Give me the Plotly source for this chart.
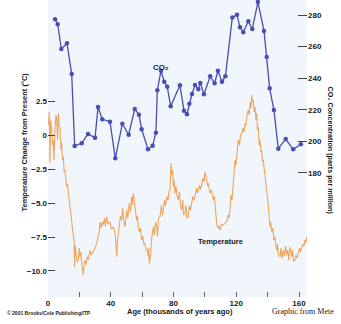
import plotly.graph_objects as go

# CO2 (Vostok) — age in thousands of years ago, ppm
co2_age = [4.5, 6.2, 8.5, 12.1, 15.1, 17.0, 21.5, 25.5, 30.0, 31.9, 34.6, 39.5, 42.9, 47.4,
           51.4, 55.3, 58.0, 59.7, 63.7, 66.7, 68.8, 69.7, 72.0, 74.1, 76.0, 78.2, 84.1,
           86.7, 88.6, 90.1, 91.8, 93.7, 95.8, 97.1, 99.4, 103.4, 106.2, 108.3, 110.9,
           113.1, 117.5, 120.5, 122.4, 124.5, 127.7, 130.2, 133.8, 137.7, 139.4, 141.3,
           144.0, 146.8, 151.5, 156.3, 161.2]
co2_ppm = [277.3, 274.1, 258.5, 262.1, 242.7, 197.1, 198.8, 204.7, 202.3, 221.8, 214.0, 212.5,
           189.3, 211.2, 204.2, 220.5, 216.9, 207.7, 195.0, 197.3, 205.5, 232.3, 244.7, 237.8,
           234.6, 222.2, 235.5, 219.4, 217.2, 223.9, 230.0, 235.7, 233.0, 237.0, 229.8,
           241.2, 236.8, 244.7, 237.8, 241.2, 278.5, 280.2, 272.2, 269.1, 276.0, 271.1,
           288.2, 269.9, 253.4, 233.6, 219.9, 195.4, 201.5, 195.0, 198.2]

# Temperature change from present (deg C)
temp_age = [0.3, 0.8, 1.3, 1.7, 2.4, 2.9, 3.4, 3.8, 4.5, 5.1, 5.5, 6.1, 6.6, 7.0, 7.6, 8.3, 8.7,
            9.2, 9.8, 10.3, 10.8, 11.9, 12.4, 12.9, 13.5, 14.0, 14.5, 15.1, 15.8, 16.6, 16.9,
            17.3, 17.8, 18.5, 19.3, 19.9, 20.4, 20.9, 21.5, 22.0, 22.5, 23.1, 23.6, 24.2,
            25.0, 25.8, 26.8, 27.7, 28.9, 30.0, 31.0, 31.9, 32.7, 33.1, 33.8, 34.5, 35.2,
            36.0, 36.6, 37.4, 38.2, 39.5, 40.4, 41.6, 42.7, 43.3, 43.8, 44.3, 44.8, 45.6,
            46.2, 47.0, 47.5, 48.0, 48.4, 49.1, 49.7, 50.2, 50.9, 51.8, 52.6, 53.3, 53.8,
            54.4, 54.9, 55.4, 56.1, 56.5, 57.0, 57.5, 58.3, 59.0, 59.7, 60.5, 61.2, 61.8,
            62.6, 63.3, 63.9, 64.3, 64.6, 65.0, 65.5, 66.0, 66.6, 67.1, 67.9, 68.5, 69.3,
            69.9, 70.4, 71.4, 72.3, 73.0, 73.5, 74.3, 74.9, 75.7, 76.5, 77.1, 77.8, 78.1,
            78.4, 78.8, 79.5, 79.9, 80.4, 80.9, 81.6, 82.2, 83.0, 83.8, 84.4, 85.2, 85.9,
            86.4, 87.3, 87.9, 88.6, 89.4, 90.1, 90.8, 91.6, 92.4, 93.1, 93.7, 94.6, 95.3,
            95.8, 96.6, 97.2, 98.0, 98.8, 99.4, 100.1, 100.6, 101.1, 101.8, 102.3, 103.2,
            104.2, 105.4, 106.1, 106.8, 107.5, 108.3, 109.0, 109.6, 110.6, 111.7, 112.8,
            113.9, 114.7, 115.4, 116.0, 116.6, 117.3, 117.9, 118.5, 119.2, 119.8, 120.5,
            121.3, 122.1, 122.7, 123.5, 124.3, 124.9, 125.6, 126.2, 126.8, 127.7, 128.3,
            128.9, 129.4, 129.8, 130.3, 130.8, 131.4, 131.9, 132.6, 133.0, 133.5, 134.0,
            134.6, 135.1, 135.8, 136.2, 136.7, 137.2, 138.3, 139.4, 140.4, 141.5, 142.0,
            142.6, 143.4, 144.0, 144.7, 145.3, 145.8, 146.3, 146.9, 147.9, 148.5, 149.1,
            150.0, 150.7, 151.4, 152.1, 152.8, 153.5, 154.2, 154.9, 155.3, 155.8, 156.5,
            157.4, 158.1, 158.7, 159.5, 160.3, 160.9, 161.7, 162.4, 163.2, 163.8, 164.4, 164.9]
temp_c = [0.76, 1.74, -2.04, 1.13, 0.39, -0.72, -0.35, -1.82, 0.63, 1.50, 1.28, -0.35, 1.64,
          0.76, 0.63, -1.08, -0.57, -1.82, -1.58, -2.71, -2.56, -3.79, -3.59, -4.26, -4.77,
          -5.27, -5.66, -6.47, -7.13, -7.72, -9.69, -8.09, -8.46, -9.34, -9.20, -8.31, -8.95,
          -8.61, -9.42, -9.79, -10.30, -9.34, -9.20, -9.56, -8.95, -9.20, -8.46, -8.83, -8.58,
          -8.31, -7.96, -7.57, -7.11, -6.37, -6.84, -6.39, -6.62, -6.10, -6.69, -6.00, -6.54,
          -6.37, -6.91, -6.74, -7.20, -7.96, -8.95, -7.72, -7.23, -6.84, -5.95, -6.25, -5.36,
          -5.75, -6.39, -6.74, -5.80, -5.51, -6.10, -5.01, -5.66, -4.53, -5.14, -4.28, -4.77,
          -5.27, -5.80, -6.25, -5.95, -6.74, -7.13, -6.84, -7.72, -7.43, -8.09, -7.96, -8.46,
          -8.46, -8.90, -8.31, -9.44, -9.05, -8.70, -7.72, -7.13, -6.74, -7.35, -6.39, -6.74,
          -7.43, -6.10, -6.00, -5.14, -5.88, -5.51, -4.77, -5.21, -4.53, -4.77, -4.18, -4.03,
          -3.30, -2.06, -2.93, -2.56, -3.79, -3.30, -4.28, -3.74, -4.40, -4.77, -4.18, -5.14,
          -5.51, -4.77, -5.88, -5.75, -5.14, -6.10, -6.00, -5.21, -5.51, -5.01, -4.48, -4.77,
          -4.53, -3.89, -4.26, -4.03, -3.67, -4.03, -3.54, -3.15, -3.44, -2.68, -3.00, -3.30,
          -3.74, -3.52, -4.28, -4.03, -4.77, -4.48, -5.88, -6.49, -6.84, -6.69, -6.98, -6.54,
          -6.62, -6.49, -6.37, -5.88, -6.10, -5.51, -4.40, -4.77, -3.67, -3.15, -1.82, -2.19,
          -1.08, -0.35, -0.72, 0.02, 0.15, 0.54, 0.24, 0.88, 0.69, 1.50, 1.87, 1.50, 2.46,
          2.01, 2.97, 2.46, 2.60, 1.72, 2.11, 1.13, 1.62, 0.39, 0.63, -0.72, -0.35, -1.23,
          -1.08, -1.97, -1.82, -2.93, -3.79, -5.14, -6.74, -6.39, -7.11, -6.84, -7.72, -7.48,
          -8.16, -8.46, -8.02, -8.83, -8.95, -8.31, -9.05, -8.46, -8.90, -8.16, -8.83, -8.46,
          -9.20, -8.22, -8.61, -8.95, -8.46, -9.27, -9.20, -8.83, -9.05, -8.70, -8.31, -8.61,
          -8.22, -8.02, -8.16, -7.72, -7.94, -7.48]

x_tickvals = [0, 20, 40, 60, 80, 100, 120, 140, 160]
x_ticktext = ["0", "", "40", "", "80", "", "120", "", "160"]
t_tickvals = [2.5, 0, -2.5, -5, -7.5, -10]
t_ticktext = ["2.5", "0", "\u22122.5", "\u22125.0", "\u22127.5", "\u221210.0"]
c_tickvals = [180, 200, 220, 240, 260, 280]

W, H = 341, 324
L, R, T, B = 48, 34, 0, 27
PW, PH = W - L - R, H - T - B

def px(x):
    return (x - L) / PW

def py(y):
    return (H - B - y) / PH

SANS = "Liberation Sans, Arial, sans-serif"
TXT = "#1a1a1a"

fig = go.Figure()
fig.add_trace(go.Scatter(x=temp_age, y=temp_c, mode="lines", yaxis="y",
                         line=dict(color="#f0a55e", width=1.1), showlegend=False))
fig.add_trace(go.Scatter(x=co2_age, y=co2_ppm, mode="lines+markers", yaxis="y2",
                         line=dict(color="#4a4db3", width=1.3),
                         marker=dict(color="#4a4db3", size=4.5), showlegend=False))

tick_font = dict(family=SANS, size=8, color=TXT, weight="bold")
fig.update_layout(
    width=W, height=H,
    margin=dict(l=L, r=R, t=T, b=B, pad=0),
    paper_bgcolor="white", plot_bgcolor="#f0f6fc",
    xaxis=dict(range=[0, 165.1], tickvals=x_tickvals, ticktext=x_ticktext,
               ticks="inside", ticklen=5, tickwidth=1, tickcolor="#666",
               showgrid=False, zeroline=False, showline=False, tickfont=tick_font),
    yaxis=dict(range=[-11.92, 9.98], tickvals=t_tickvals, ticktext=t_ticktext,
               ticks="inside", ticklen=7, tickwidth=1, tickcolor="#444",
               showgrid=False, zeroline=False, showline=False, tickfont=tick_font),
    yaxis2=dict(range=[101.5, 289.5], tickvals=c_tickvals, overlaying="y", side="right",
                ticks="inside", ticklen=9, tickwidth=1, tickcolor="#444",
                showgrid=False, zeroline=False, showline=False, tickfont=tick_font),
    annotations=[
        dict(text="Temperature Change from Present (\u00b0C)", x=px(17), y=py(142),
             xref="paper", yref="paper", showarrow=False, textangle=-90,
             font=dict(family=SANS, size=7.5, color=TXT, weight="bold")),
        dict(text="CO\u2082 Concentration (parts per million)", x=px(336), y=py(150),
             xref="paper", yref="paper", showarrow=False, textangle=90,
             font=dict(family=SANS, size=7.2, color=TXT, weight="bold")),
        dict(text="Age (thousands of years ago)", x=px(180), y=py(318),
             xref="paper", yref="paper", showarrow=False,
             font=dict(family=SANS, size=7.5, color=TXT, weight="bold")),
        dict(text="\u00a9 2001 Brooks/Cole Publishing/ITP", x=px(5), y=py(318),
             xref="paper", yref="paper", showarrow=False, xanchor="left",
             font=dict(family=SANS, size=5, color=TXT, weight="bold")),
        dict(text="Graphic from Mete", x=px(270), y=py(318),
             xref="paper", yref="paper", showarrow=False, xanchor="left",
             font=dict(family="Liberation Serif, Times New Roman, serif", size=8, color=TXT)),
        dict(text="CO\u2082", x=px(160.5), y=py(61),
             xref="paper", yref="paper", showarrow=False,
             font=dict(family=SANS, size=8, color=TXT, weight="bold")),
        dict(text="Temperature", x=px(220), y=py(248),
             xref="paper", yref="paper", showarrow=False,
             font=dict(family=SANS, size=7.5, color=TXT, weight="bold")),
    ],
)

fig.write_html("out.html", config={"displayModeBar": False},
               post_script="document.body.style.margin='0px';document.body.style.overflow='hidden';")
